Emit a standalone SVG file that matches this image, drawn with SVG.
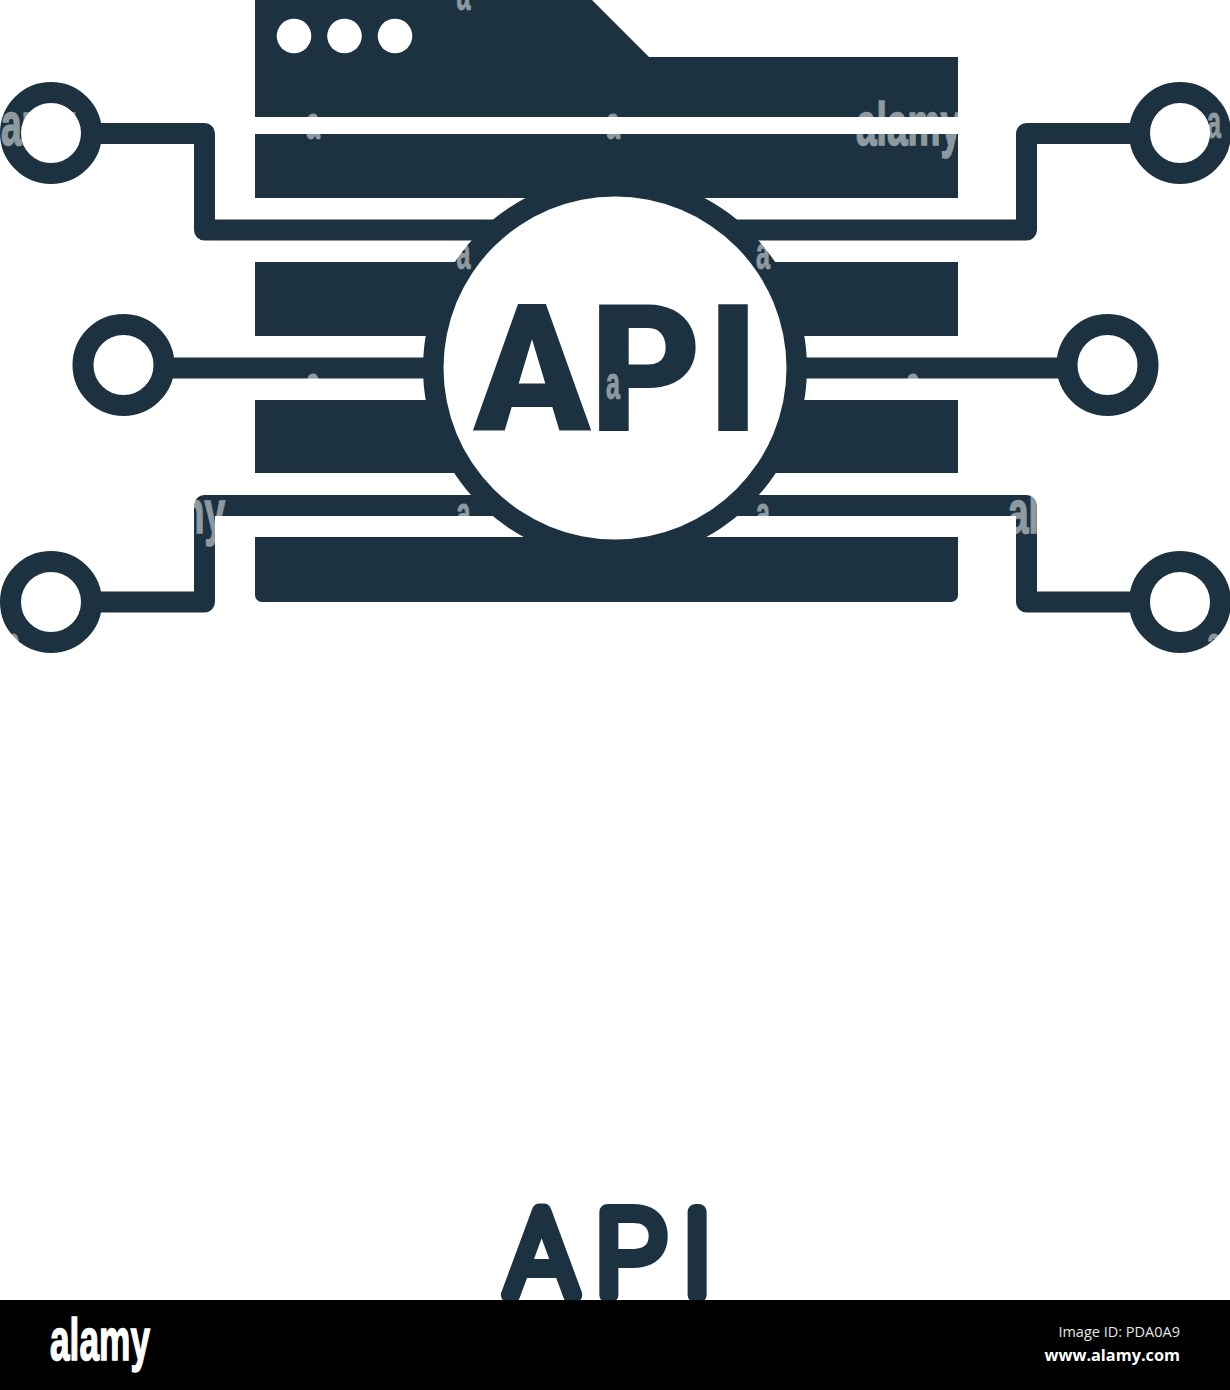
<svg xmlns="http://www.w3.org/2000/svg" width="1230" height="1390" viewBox="0 0 1230 1390">
  <style>
    .dark { fill: #1c3240; }
    .wire { fill: none; stroke: #1c3240; stroke-width: 21; stroke-linejoin: round; }
    .port { fill: #fff; stroke: #1c3240; stroke-width: 21; }
    .dot { fill: #fff; }
    .wm { font-family: "Liberation Sans", Arial, sans-serif; font-weight: 700; fill: #fff; stroke: #fff; opacity: 0.5; }
    .wmb { font-size: 62px; stroke-width: 1.5; }
    .wms { font-size: 46px; stroke-width: 0.8; }
  </style>
  <rect width="1230" height="1390" fill="#fff"/>
  <g id="server">
    <path class="dark" d="M255 0H592L649 57H958V117H255Z"/>
    <circle class="dot" cx="294" cy="36" r="17.3"/>
    <circle class="dot" cx="344.5" cy="36" r="17.3"/>
    <circle class="dot" cx="395" cy="36" r="17.3"/>
    <rect class="dark" x="255" y="134" width="703" height="64"/>
    <rect class="dark" x="255" y="262" width="703" height="74"/>
    <rect class="dark" x="255" y="400" width="703" height="73"/>
    <path class="dark" d="M255 537H958V595a7 7 0 0 1-7 7H262a7 7 0 0 1-7-7Z"/>
  </g>
  <g id="connectors">
    <path class="wire" d="M95 133.5H204.500V230H500"/>
    <path class="wire" d="M1135 133.500H1026.500V230H730"/>
    <path class="wire" d="M165 368H500"/>
    <path class="wire" d="M1065 368H730"/>
    <path class="wire" d="M95 602H204.500V505.500H500"/>
    <path class="wire" d="M1135 602H1026.500V505.500H730"/>
  </g>
  <g id="port-top-left"><circle class="port" cx="51" cy="133" r="40.500"/></g>
  <g id="port-top-right"><circle class="port" cx="1180" cy="133" r="40.500"/></g>
  <g id="port-middle-left"><circle class="port" cx="123.500" cy="365" r="40.500"/></g>
  <g id="port-middle-right"><circle class="port" cx="1107.500" cy="365" r="40.500"/></g>
  <g id="port-bottom-left"><circle class="port" cx="51" cy="602" r="40.500"/></g>
  <g id="port-bottom-right"><circle class="port" cx="1180" cy="602" r="40.500"/></g>
  <g id="api-hub">
    <circle class="dark" cx="615" cy="368" r="192"/>
    <circle cx="615" cy="368" r="171.500" fill="#fff"/>
    <text class="dark" transform="scale(0.97 1)" x="488 608 729" y="431" font-family="Roboto, sans-serif" font-weight="900" font-size="178">API</text>
  </g>
  <g id="watermark">
    <text class="wm wmb" x="856" y="145" textLength="105" lengthAdjust="spacingAndGlyphs">alamy</text>
    <text class="wm wmb" x="-30" y="145" textLength="105" lengthAdjust="spacingAndGlyphs">alamy</text>
    <text class="wm wmb" x="120" y="533" textLength="105" lengthAdjust="spacingAndGlyphs">alamy</text>
    <text class="wm wmb" x="1008" y="533" textLength="105" lengthAdjust="spacingAndGlyphs">alamy</text>
    <text class="wm wms" x="456.500" y="10" textLength="14" lengthAdjust="spacingAndGlyphs">a</text>
    <text class="wm wms" x="306" y="139" textLength="14" lengthAdjust="spacingAndGlyphs">a</text>
    <text class="wm wms" x="606" y="139" textLength="14" lengthAdjust="spacingAndGlyphs">a</text>
    <text class="wm wms" x="456.500" y="269" textLength="14" lengthAdjust="spacingAndGlyphs">a</text>
    <text class="wm wms" x="756" y="269" textLength="14" lengthAdjust="spacingAndGlyphs">a</text>
    <text class="wm wms" x="306" y="399" textLength="14" lengthAdjust="spacingAndGlyphs">a</text>
    <text class="wm wms" x="606" y="399" textLength="14" lengthAdjust="spacingAndGlyphs">a</text>
    <text class="wm wms" x="906" y="399" textLength="14" lengthAdjust="spacingAndGlyphs">a</text>
    <text class="wm wms" x="456.500" y="529" textLength="14" lengthAdjust="spacingAndGlyphs">a</text>
    <text class="wm wms" x="756" y="529" textLength="14" lengthAdjust="spacingAndGlyphs">a</text>
    <text class="wm wms" x="1207" y="138" textLength="14" lengthAdjust="spacingAndGlyphs">a</text>
    <text class="wm wms" x="6" y="659" textLength="14" lengthAdjust="spacingAndGlyphs">a</text>
    <text class="wm wms" x="1207" y="659" textLength="14" lengthAdjust="spacingAndGlyphs">a</text>
  </g>
  <g id="caption">
    <text class="dark" x="507 596 682" y="1295" font-family="Roboto, sans-serif" font-weight="100" font-size="116" stroke="#1c3240" stroke-width="16" stroke-linejoin="round">API</text>
  </g>
  <g id="footer">
    <rect x="0" y="1300" width="1230" height="90" fill="#000"/>
    <text x="50" y="1360" fill="#fff" stroke="#fff" stroke-width="1.500" font-family="Liberation Sans, Arial, sans-serif" font-weight="700" font-size="60" textLength="100" lengthAdjust="spacingAndGlyphs">alamy</text>
    <text x="1180" y="1337" text-anchor="end" fill="#e6e6e6" font-family="Open Sans, sans-serif" font-size="14.500">Image ID: PDA0A9</text>
    <text x="1180" y="1361" text-anchor="end" fill="#fff" font-family="Open Sans, sans-serif" font-weight="700" font-size="16.300">www.alamy.com</text>
  </g>
</svg>
